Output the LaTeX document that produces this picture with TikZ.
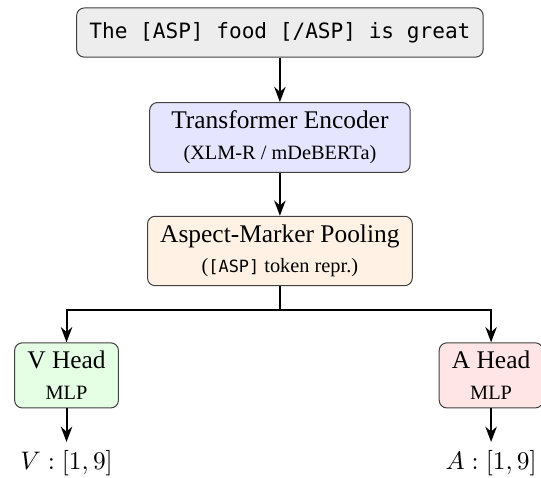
\documentclass[tikz,border=0pt]{standalone}
\usepackage{fontspec}
\setmainfont{Liberation Serif}
\setmonofont[Scale=0.83]{DejaVu Sans Mono}
\usetikzlibrary{arrows.meta}

\begin{document}
\begin{tikzpicture}[
    box/.style={draw=black!75, rounded corners=3pt, align=center, inner xsep=5pt},
    stage/.style={box, minimum width=3.6cm, minimum height=0.94cm},
    headbox/.style={box, minimum width=1.4cm, minimum height=0.89cm},
    flow/.style={-{Stealth[length=6pt]}, thick}
]
    \useasboundingbox (-3.87, 0.45) rectangle (3.61, -6.15);
    \node[box, fill=black!7, minimum height=0.68cm] (input) at (0, 0) {\texttt{The [ASP] food [/ASP] is great}};
    \node[stage, fill=blue!10] (enc) at (0, -1.45) {Transformer Encoder\\{\footnotesize (XLM-R / mDeBERTa)}};
    \node[stage, fill=orange!10] (pool) at (0, -3.02) {Aspect-Marker Pooling\\{\footnotesize (\texttt{[ASP]} token repr.)}};
    \coordinate (split) at (0, -3.84);
    \node[headbox, fill=green!10] (vhead) at (-2.95, -4.74) {V Head\\{\footnotesize MLP}};
    \node[headbox, fill=red!10] (ahead) at (2.92, -4.74) {A Head\\{\footnotesize MLP}};
    \node (vout) at (-2.95, -5.96) {$V:[1,9]$};
    \node (aout) at (2.92, -5.96) {$A:[1,9]$};
    \draw[flow] (input) -- (enc);
    \draw[flow] (enc) -- (pool);
    \draw[thick] (pool) -- (split);
    \draw[flow] (split) -| (vhead);
    \draw[flow] (split) -| (ahead);
    \draw[flow] (vhead) -- (vout);
    \draw[flow] (ahead) -- (aout);
\end{tikzpicture}
\end{document}
